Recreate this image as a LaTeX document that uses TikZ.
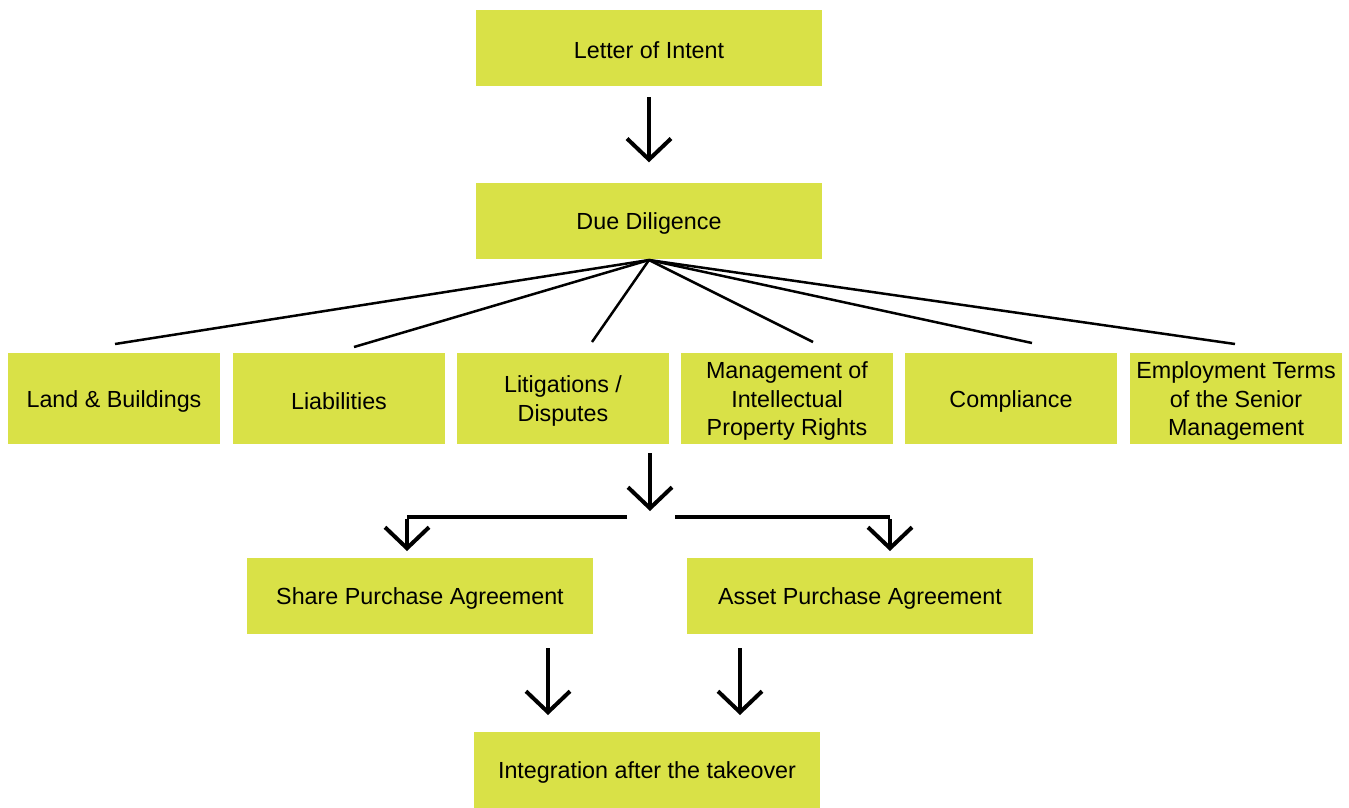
\documentclass[tikz,border=0pt]{standalone}
\usepackage{fontspec}
\setmainfont{Liberation Sans}
\usetikzlibrary{arrows.meta}
\definecolor{lime}{RGB}{217,225,71}
\tikzset{
  boxtext/.style={inner sep=0pt, align=center, text=black, yshift=-2.5pt,
    font=\fontsize{23.3}{28.5}\selectfont},
  box/.style={fill=lime, inner sep=0pt, label={[boxtext]center:#1}},
  big/.style={box={#1}, minimum width=346pt, minimum height=76pt},
  small/.style={box={#1}, minimum width=212pt, minimum height=91pt},
  arr/.style={line width=4pt, -{Straight Barb[length=21pt, width=44pt, line width=4pt]}},
  fan/.style={line width=2.5pt},
  bar/.style={line width=4pt}
}
\begin{document}
\begin{tikzpicture}[x=1pt,y=-1pt]
\useasboundingbox (0,0) rectangle (1349,807);
\node[big={Letter of Intent}] (loi) at (649,48) {};
\node[big={Due Diligence}] (dd) at (649,220.5) {};
\node[small={Land \& Buildings}] (land) at (114,398.5) {};
\node[small={Liabilities}] (liab) at (339,398.5) {};
\node[small={Litigations /\\Disputes}] (lit) at (563,398.5) {};
\node[small={Management of\\Intellectual\\Property Rights}] (mip) at (787,398.5) {};
\node[small={Compliance}] (comp) at (1011,398.5) {};
\node[small={Employment Terms\\of the Senior\\Management}] (emp) at (1236,398.5) {};
\node[big={Share Purchase Agreement}] (spa) at (420,596) {};
\node[big={Asset Purchase Agreement}] (apa) at (860,596) {};
\node[big={Integration after the takeover}] (int) at (647,770) {};

% arrow LOI -> DD
\draw[arr, shorten <=11pt, shorten >=20pt] (loi.south) -- (dd.north);

% fan
\coordinate (fo) at (649,260);
\draw[fan] (fo) -- (115,344);
\draw[fan] (fo) -- (354,347);
\draw[fan] (fo) -- (592,342);
\draw[fan] (fo) -- (813,342);
\draw[fan] (fo) -- (1032,343);
\draw[fan] (fo) -- (1235,344);

% split
\coordinate (hub) at (650,517);
\draw[arr, shorten <=9pt, shorten >=6pt] (hub |- lit.south) -- (hub);
\coordinate (sl) at (407,551);
\coordinate (sr) at (890,551);
\draw[bar] (627,517) -- (sl |- hub);
\draw[arr] ([yshift=-2pt]sl |- hub) -- (sl);
\draw[bar] (675,517) -- (sr |- hub);
\draw[arr] ([yshift=-2pt]sr |- hub) -- (sr);

% bottom arrows
\draw[arr] (548,648) -- (548,715);
\draw[arr] (740,648) -- (740,715);
\end{tikzpicture}
\end{document}
